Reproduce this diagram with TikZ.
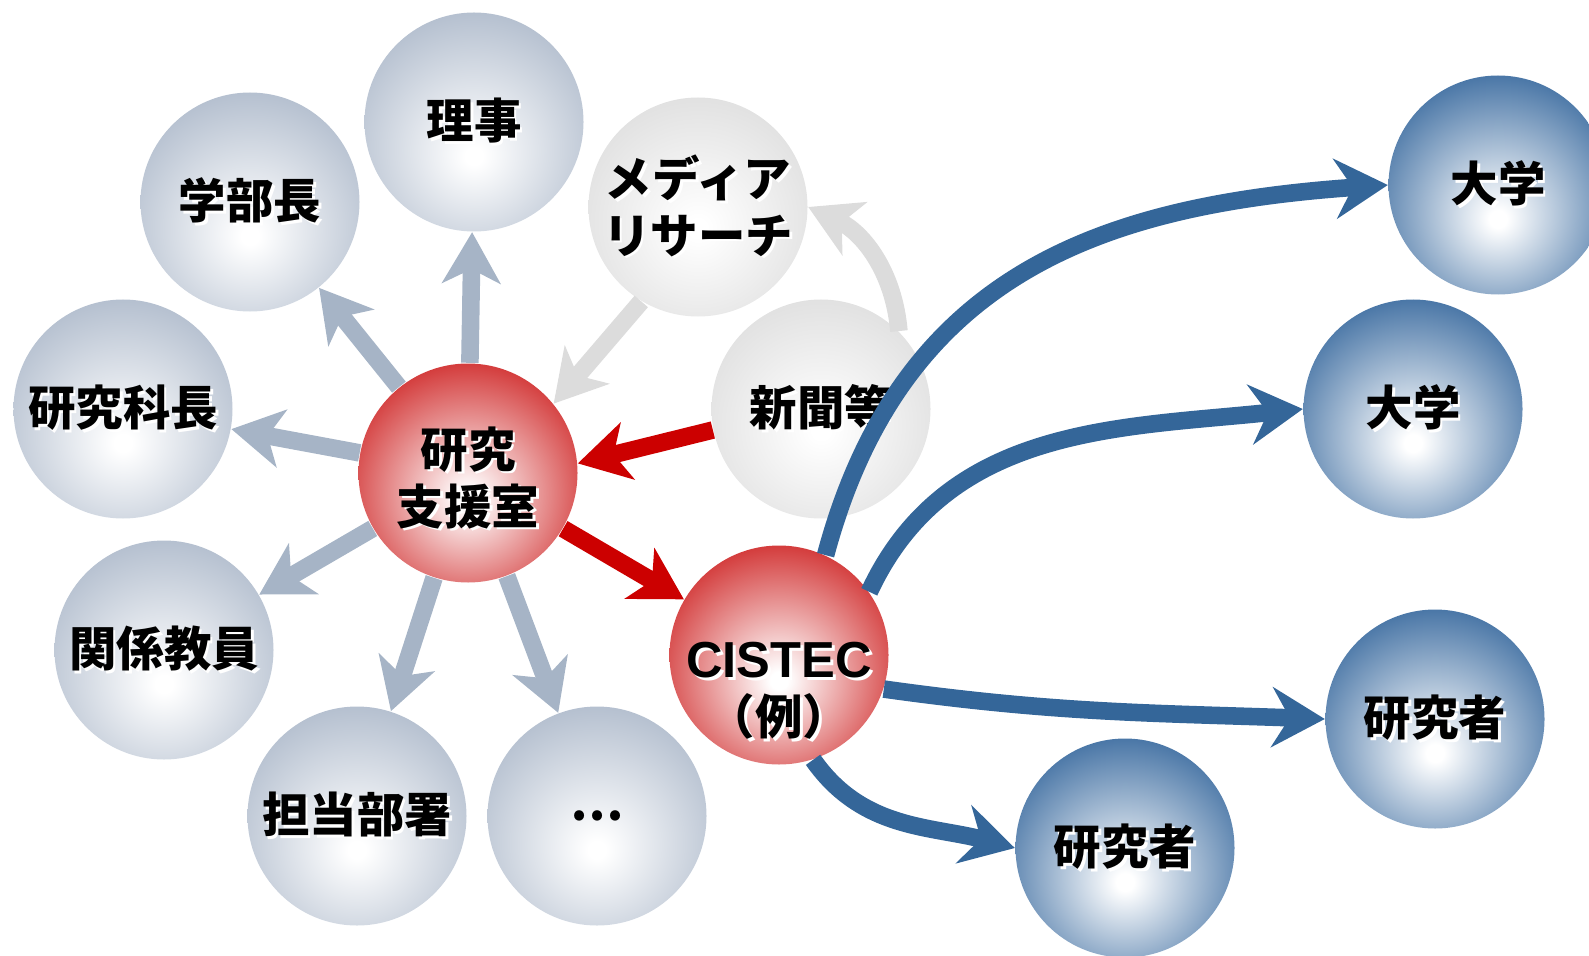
\documentclass[tikz,border=0pt]{standalone}
\usepackage{fontspec}
\newfontfamily\jp{Noto Sans CJK JP}
\newfontfamily\arial{Liberation Sans}
\usetikzlibrary{arrows.meta}
\definecolor{ballgray}{HTML}{A0AEC2}
\definecolor{balllight}{HTML}{D4D4D4}
\definecolor{ballred}{HTML}{C80808}
\definecolor{ballblue}{HTML}{30639A}
\definecolor{arrgray}{HTML}{A6B4C6}
\definecolor{arrlight}{HTML}{DCDCDC}
\definecolor{arrred}{HTML}{CC0000}
\definecolor{arrblue}{HTML}{346699}
\pgfdeclareradialshading{sgray}{\pgfpoint{0bp}{-8bp}}{color(0bp)=(white);color(2bp)=(white);color(38bp)=(ballgray);color(80bp)=(ballgray)}
\pgfdeclareradialshading{slight}{\pgfpoint{0bp}{-5bp}}{color(0bp)=(white);color(2bp)=(white);color(40bp)=(balllight);color(80bp)=(balllight)}
\pgfdeclareradialshading{sred}{\pgfpoint{0bp}{-6bp}}{color(0bp)=(white);color(2bp)=(white);color(36bp)=(ballred);color(80bp)=(ballred)}
\pgfdeclareradialshading{sblue}{\pgfpoint{0bp}{-8bp}}{color(0bp)=(white);color(2bp)=(white);color(34bp)=(ballblue);color(80bp)=(ballblue)}
\newcommand\wsh[1]{\leavevmode\rlap{\kern.8pt\raisebox{-.8pt}{\color{white}#1}}#1}
\newcommand\low[1]{\raisebox{-14.5pt}[0pt][0pt]{\wsh{#1}}}
\begin{document}
\begin{tikzpicture}[
  ball/.style={circle,minimum size=2.19cm,inner sep=0pt,align=center,font=\jp\bfseries\fontsize{13.5pt}{16.2pt}\selectfont},
  grayball/.style={ball,shading=sgray},
  lightball/.style={ball,shading=slight},
  redball/.style={ball,shading=sred},
  blueball/.style={ball,shading=sblue},
  arr/.style={line width=5pt,-{Stealth[length=14.5pt,width=16.5pt,inset=4pt]}},
  grayarr/.style={arr,draw=arrgray},
  lightarr/.style={arr,draw=arrlight},
  redarr/.style={arr,draw=arrred},
  bluearr/.style={arr,draw=arrblue,-{Stealth[length=15pt,width=17pt,inset=5pt]}}]
\useasboundingbox (0,0) rectangle (15.89,9.55);
\node[grayball] (riji) at (4.74,8.33) {\wsh{理事}};
\node[grayball] (gakubu) at (2.50,7.53) {\wsh{学部長}};
\node[grayball] (kenkyuka) at (1.23,5.46) {\wsh{研究科長}};
\node[grayball] (kankei) at (1.64,3.05) {\wsh{関係教員}};
\node[grayball] (tanto) at (3.57,1.39) {\wsh{担当部署}};
\node[grayball] (more) at (5.97,1.39) {…};
\node[lightball] (media) at (6.98,7.48) {\wsh{メディア}\\\wsh{リサーチ}};
\node[lightball] (shinbun) at (8.21,5.46) {\wsh{新聞等}};
\node[redball] (shien) at (4.68,4.82) {\rule{0pt}{15pt}\wsh{研究}\\\wsh{支援室}};
\node[redball] (cistec) at (7.79,3.00) {\low{\arial\fontsize{14.4pt}{16.2pt}\selectfont CISTEC}\\\low{（例）}};
\node[blueball] (daigakuA) at (14.98,7.70) {\wsh{大学}};
\node[blueball] (daigakuB) at (14.13,5.46) {\wsh{大学}};
\node[blueball] (kenA) at (14.35,2.36) {\wsh{研究者}};
\node[blueball] (kenB) at (11.25,1.07) {\wsh{研究者}};
\foreach \n in {riji,gakubu,kenkyuka,kankei,tanto,more}
  \draw[grayarr] (shien) -- (\n);
\draw[lightarr] (media.239) -- (shien.39);
\draw[lightarr] (shinbun.45) to[out=95,in=-25] (media.0);
\draw[redarr] (shinbun.191) -- (shien.5);
\draw[redarr] (shien) -- (cistec);
\draw[bluearr] (cistec.65) to[out=75,in=184,looseness=1.1] (daigakuA.180);
\draw[bluearr] (cistec.35) to[out=65,in=186] (daigakuB.180);
\draw[bluearr] (cistec.-18) to[out=-8,in=178] (kenA.180);
\draw[bluearr] (cistec.-72) to[out=-55,in=165] (kenB.180);
\end{tikzpicture}
\end{document}
